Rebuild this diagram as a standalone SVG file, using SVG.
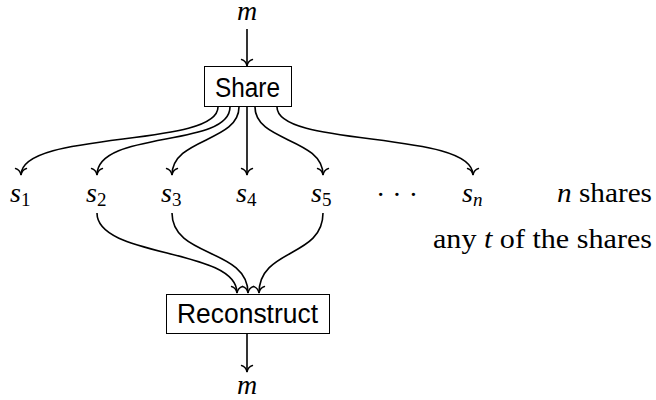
<svg xmlns="http://www.w3.org/2000/svg" width="656" height="400" viewBox="0 0 656 400">
<defs>
<style>
.box{fill:#fff;stroke:#000;stroke-width:1}
.sans{font-family:"Liberation Sans","DejaVu Sans",sans-serif;font-size:27px;fill:#000}
.math{font-family:"Liberation Serif","DejaVu Serif",serif;font-style:italic;font-size:28px;fill:#000}
.sub{font-style:normal;font-size:19px}
.sub.it{font-style:italic}
.txt{font-family:"Liberation Serif","DejaVu Serif",serif;font-size:28px;fill:#000}
.edge{fill:none;stroke:#000;stroke-width:1.6;marker-end:url(#arr)}
</style>
<marker id="arr" markerUnits="userSpaceOnUse" markerWidth="16" markerHeight="16" viewBox="-8 -8 16 16" refX="0" refY="0" orient="auto" overflow="visible">
<path d="M-6.5,-5.5 C-5.5,-2 -2,-0.4 0,0 C-2,0.4 -5.5,2 -6.5,5.5" fill="none" stroke="#000" stroke-width="1.4" stroke-linecap="round"/>
</marker>
</defs>
<g id="connectors">
<path class="edge" d="M247,29 L247,66"/>
<path class="edge" d="M218,107 C218,148 21,130 21,175"/>
<path class="edge" d="M230,107 C230,148 97,130 97,175"/>
<path class="edge" d="M239,107 C239,142 172,138 172,175"/>
<path class="edge" d="M247,107 L247,175"/>
<path class="edge" d="M255,107 C255,142 323,138 323,175"/>
<path class="edge" d="M277,107 C277,148 473,130 473,175"/>
<path class="edge" d="M97,213 C97,258 237,248 237,293"/>
<path class="edge" d="M172,213 C172,258 248,248 248,293"/>
<path class="edge" d="M323,213 C323,258 259,248 259,293"/>
<path class="edge" d="M247,333 L247,372"/>
</g>
<g id="m-top"><text class="math" x="247" y="20" text-anchor="middle">m</text></g>
<g id="share"><rect class="box" x="204.5" y="66.5" width="87" height="40"/><text class="sans" x="215" y="97" textLength="65" lengthAdjust="spacingAndGlyphs">Share</text></g>
<g id="s1"><text class="math" x="10" y="202">s<tspan class="sub" dy="4">1</tspan></text></g>
<g id="s2"><text class="math" x="86" y="202">s<tspan class="sub" dy="4">2</tspan></text></g>
<g id="s3"><text class="math" x="161" y="202">s<tspan class="sub" dy="4">3</tspan></text></g>
<g id="s4"><text class="math" x="236" y="202">s<tspan class="sub" dy="4">4</tspan></text></g>
<g id="s5"><text class="math" x="311" y="202">s<tspan class="sub" dy="4">5</tspan></text></g>
<g id="dots"><text class="txt" x="397" y="204" text-anchor="middle">· · ·</text></g>
<g id="sn"><text class="math" x="462" y="202">s<tspan class="sub it" dy="4">n</tspan></text></g>
<g id="label-n"><text class="txt" x="557" y="202" textLength="95" lengthAdjust="spacingAndGlyphs"><tspan style="font-style:italic">n</tspan> shares</text></g>
<g id="label-t"><text class="txt" x="433" y="248" textLength="219" lengthAdjust="spacingAndGlyphs">any <tspan style="font-style:italic">t</tspan> of the shares</text></g>
<g id="reconstruct"><rect class="box" x="166.5" y="294.5" width="163" height="39"/><text class="sans" x="177" y="323" textLength="141" lengthAdjust="spacingAndGlyphs">Reconstruct</text></g>
<g id="m-bot"><text class="math" x="247" y="394" text-anchor="middle">m</text></g>
</svg>
